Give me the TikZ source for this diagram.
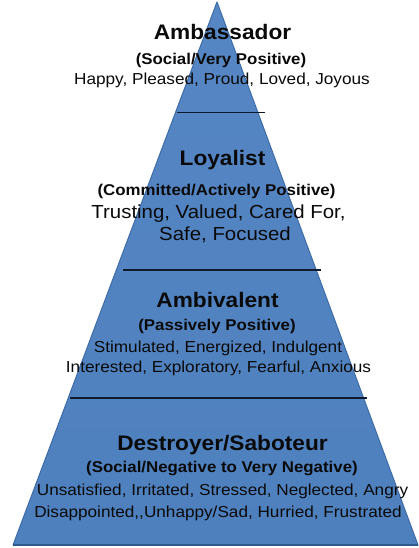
\documentclass[tikz,border=0pt]{standalone}
\usepackage{fontspec}
\setmainfont[FakeStretch=1.08]{Liberation Sans}
\definecolor{pyrfill}{HTML}{4F80BE}
\definecolor{pyrtop}{HTML}{5687C4}
\definecolor{pyredge}{HTML}{3D6CA8}
\definecolor{pyrbase}{HTML}{2F5A8C}
\definecolor{sepcol}{HTML}{0E1A2E}
\definecolor{txt}{HTML}{0A0A0A}
\begin{document}
\begin{tikzpicture}[x=1pt,y=-1pt,
  lbl/.style={inner sep=0pt,anchor=base,text=txt},
  head/.style={lbl,font=\bfseries\fontsize{21}{25}\selectfont},
  sub/.style={lbl,font=\bfseries\fontsize{15.6}{19}\selectfont},
  desc/.style={lbl,font=\fontsize{15.9}{19}\selectfont},
  descbig/.style={lbl,font=\fontsize{18.9}{22}\selectfont},
  sep/.style={draw=sepcol,line width=1.4pt}]
\useasboundingbox (0,0) rectangle (419,548);
\fill[white] (0,0) rectangle (419,548);
% pyramid
\coordinate (apex) at (217,2);
\coordinate (bl) at (13,545);
\coordinate (br) at (418,545);
\shade[top color=pyrtop,bottom color=pyrfill] (apex) -- (br) -- (bl) -- cycle;
\draw[pyredge,line width=1pt,line join=round] (apex) -- (br) -- (bl) -- cycle;
\draw[pyrbase,line width=1.6pt] (bl) -- (br);
% separators
\coordinate (s1a) at (177,112.5); \coordinate (s1b) at (265,112.5);
\coordinate (s2a) at (123,270);   \coordinate (s2b) at (321,270);
\coordinate (s3a) at (70,398);    \coordinate (s3b) at (367,398);
\draw[sep] (s1a) -- (s1b);
\draw[sep] (s2a) -- (s2b);
\draw[sep] (s3a) -- (s3b);
% Ambassador
\node[head] (t1) at (222.5,39.5) {Ambassador};
\node[sub]  (t1s) at (221,65) {(Social/Very Positive)};
\node[desc] (t1d) at (222,85) {Happy, Pleased, Proud, Loved, Joyous};
% Loyalist
\node[head] (t2) at (222.5,166) {Loyalist};
\node[sub]  (t2s) at (216.5,195) {(Committed/Actively Positive)};
\node[descbig] (t2d) at (218.5,218) {Trusting, Valued, Cared For,};
\node[descbig] (t2e) at (225,240.5) {Safe, Focused};
% Ambivalent
\node[head] (t3) at (217.5,307) {Ambivalent};
\node[sub]  (t3s) at (217,330) {(Passively Positive)};
\node[desc] (t3d) at (218,352.5) {Stimulated, Energized, Indulgent};
\node[desc] (t3e) at (218.5,372) {Interested, Exploratory, Fearful, Anxious};
% Destroyer
\node[head] (t4) at (222.5,450) {Destroyer/Saboteur};
\node[sub]  (t4s) at (222,472.5) {(Social/Negative to Very Negative)};
\node[desc] (t4d) at (222.5,495) {Unsatisfied, Irritated, Stressed, Neglected, Angry};
\node[desc] (t4e) at (218,517) {Disappointed,{},Unhappy/Sad, Hurried, Frustrated};
\end{tikzpicture}
\end{document}
